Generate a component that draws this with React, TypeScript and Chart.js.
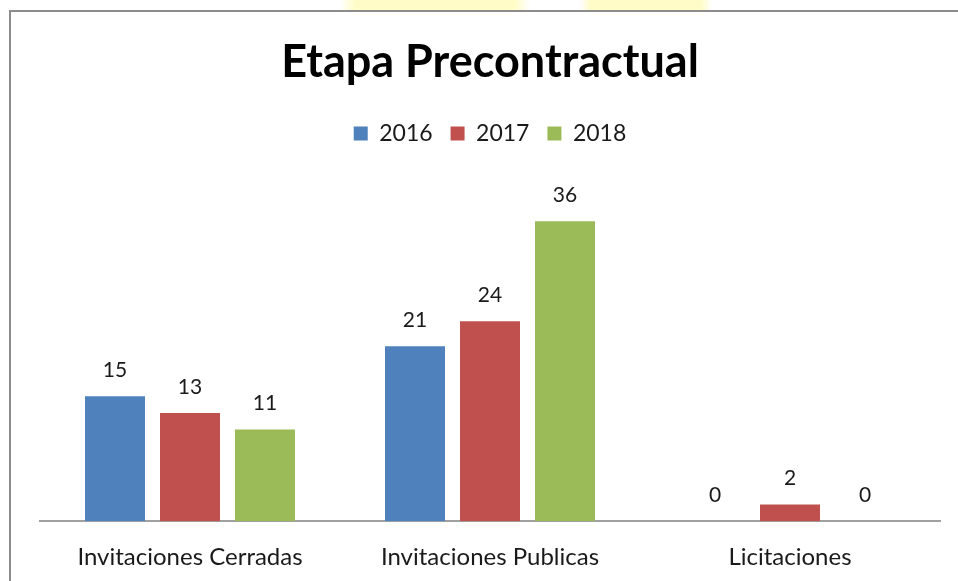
import React, { useEffect, useRef } from "react";
import { Chart, registerables } from "chart.js";

Chart.register(...registerables);

const TITLE = "Etapa Precontractual";
const categories = ["Invitaciones Cerradas", "Invitaciones Publicas", "Licitaciones"];
const seriesNames = ["2016", "2017", "2018"];
const values2016 = [15, 21, 0];
const values2017 = [13, 24, 2];
const values2018 = [11, 36, 0];
const colors = ["#4f81bd", "#c0504d", "#9bbb59"];
const yMax = 40;

const FONT = "Lato, 'Open Sans', sans-serif";

const decorPlugin = {
  id: "decor",
  beforeDraw(chart: any) {
    const ctx = chart.ctx;
    ctx.save();
    ctx.fillStyle = "#ffffff";
    ctx.fillRect(0, 0, chart.width, chart.height);
    const drawGlow = (x0: number, x1: number) => {
      const g = ctx.createLinearGradient(x0, 0, x1, 0);
      g.addColorStop(0, "rgba(255,252,200,0)");
      g.addColorStop(0.08, "rgba(255,252,200,1)");
      g.addColorStop(0.92, "rgba(255,252,200,1)");
      g.addColorStop(1, "rgba(255,252,200,0)");
      ctx.fillStyle = g;
      ctx.fillRect(x0, 0, x1 - x0, 10);
    };
    drawGlow(340, 530);
    drawGlow(580, 712);
    ctx.strokeStyle = "#8c8c8c";
    ctx.lineWidth = 2;
    ctx.beginPath();
    ctx.moveTo(10, chart.height);
    ctx.lineTo(10, 11);
    ctx.lineTo(chart.width, 11);
    ctx.stroke();
    ctx.restore();
  },
};

const labelPlugin = {
  id: "valueLabels",
  afterDatasetsDraw(chart: any) {
    const ctx = chart.ctx;
    ctx.save();
    ctx.font = `21px ${FONT}`;
    ctx.fillStyle = "#1a1a1a";
    ctx.textAlign = "center";
    ctx.textBaseline = "middle";
    chart.data.datasets.forEach((ds: any, i: number) => {
      const meta = chart.getDatasetMeta(i);
      meta.data.forEach((bar: any, j: number) => {
        ctx.fillText(String(ds.data[j]), bar.x, bar.y - 26);
      });
    });
    ctx.restore();
  },
};

export default function App() {
  const ref = useRef<HTMLCanvasElement | null>(null);
  useEffect(() => {
    if (!ref.current) return;
    const seriesValues = [values2016, values2017, values2018];
    const chart = new Chart(ref.current, {
      type: "bar",
      data: {
        labels: categories,
        datasets: seriesNames.map((name, i) => ({
          label: name,
          data: seriesValues[i],
          backgroundColor: colors[i],
          borderWidth: 0,
          categoryPercentage: 0.75,
          barPercentage: 0.8,
        })),
      },
      options: {
        animation: false,
        responsive: false,
        maintainAspectRatio: false,
        layout: { padding: { left: 40, right: 18, top: 0, bottom: -13 } },
        plugins: {
          title: {
            display: true,
            text: TITLE,
            color: "#000000",
            font: { family: FONT, size: 45, weight: "bold", lineHeight: 1.2 },
            padding: { top: 35, bottom: 15 },
          },
          subtitle: {
            display: true,
            text: " ",
            weight: 500,
            font: { size: 1, lineHeight: 1 },
            padding: { top: 0, bottom: 32 },
          },
          legend: {
            display: true,
            position: "top",
            labels: {
              boxWidth: 14,
              boxHeight: 14,
              padding: 18,
              color: "#1a1a1a",
              font: { family: FONT, size: 23 },
            },
          },
          tooltip: { enabled: false },
        },
        scales: {
          x: {
            grid: { display: false, drawTicks: false },
            border: { display: true, color: "#a0a0a0", width: 2 },
            ticks: {
              color: "#1a1a1a",
              padding: 22,
              font: { family: FONT, size: 24 },
              maxRotation: 0,
              autoSkip: false,
            },
          },
          y: {
            display: false,
            min: 0,
            max: yMax,
          },
        },
      },
      plugins: [decorPlugin, labelPlugin],
    });
    return () => chart.destroy();
  }, []);
  return (
    <div style={{ position: "fixed", left: 0, top: 0, width: 958, height: 581, background: "#fff" }}>
      <canvas ref={ref} width={958} height={581} style={{ display: "block" }} />
    </div>
  );
}
